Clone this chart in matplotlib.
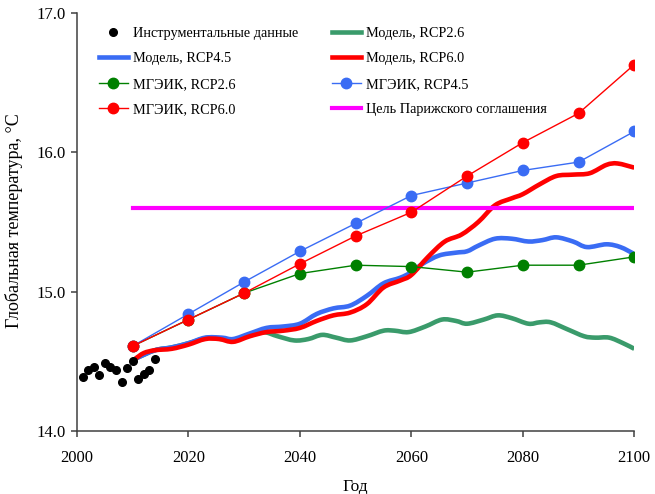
import numpy as np
import matplotlib
matplotlib.use("Agg")
import matplotlib.pyplot as plt
from matplotlib.path import Path
from matplotlib.patches import PathPatch
from matplotlib.lines import Line2D

plt.rcParams['font.family'] = ['Liberation Serif', 'DejaVu Serif']

# instrumental data
obs_years = [2001, 2002, 2003, 2004, 2005, 2006, 2007, 2008, 2009, 2010, 2011, 2012, 2013, 2014]
obs_temp = [14.39, 14.44, 14.46, 14.40, 14.49, 14.46, 14.44, 14.35, 14.45, 14.50, 14.37, 14.41, 14.44, 14.52]

# IPCC (MGEIK) scenario points
ipcc_years = [2010, 2020, 2030, 2040, 2050, 2060, 2070, 2080, 2090, 2100]
ipcc_26 = [14.61, 14.80, 14.99, 15.13, 15.19, 15.18, 15.14, 15.19, 15.19, 15.25]
ipcc_45 = [14.61, 14.84, 15.07, 15.29, 15.49, 15.69, 15.78, 15.87, 15.93, 16.15]
ipcc_60 = [14.61, 14.80, 14.99, 15.20, 15.40, 15.57, 15.83, 16.07, 16.28, 16.63]

# model curves (smoothed lines)
m26_years = [2010.5, 2014, 2017, 2020, 2023.5, 2026, 2028, 2031, 2033.5, 2036, 2039, 2041.5, 2044, 2046.5,
             2049, 2052, 2055, 2057, 2059.5, 2062.5, 2065.5, 2068, 2070, 2073, 2075.5, 2078, 2081, 2083,
             2085, 2088, 2091, 2093, 2095.5, 2098, 2100]
m26_temp = [14.52, 14.58, 14.60, 14.63, 14.67, 14.66, 14.65, 14.69, 14.71, 14.68, 14.65, 14.66, 14.69, 14.67,
            14.65, 14.68, 14.72, 14.72, 14.71, 14.75, 14.80, 14.79, 14.77, 14.80, 14.83, 14.81, 14.77, 14.78,
            14.78, 14.73, 14.68, 14.67, 14.67, 14.63, 14.59]

m45_years = [2010.5, 2014, 2017, 2020, 2023, 2026, 2028, 2031, 2034, 2037, 2040, 2043, 2046, 2049, 2052,
             2055, 2058, 2060, 2062, 2065, 2068, 2070, 2072, 2075, 2078, 2081, 2083.5, 2086, 2089, 2091.5,
             2095, 2097.5, 2100]
m45_temp = [14.52, 14.58, 14.60, 14.63, 14.67, 14.67, 14.66, 14.70, 14.74, 14.75, 14.77, 14.84, 14.88, 14.90,
            14.97, 15.06, 15.10, 15.14, 15.20, 15.26, 15.28, 15.29, 15.33, 15.38, 15.38, 15.36, 15.37, 15.39,
            15.36, 15.32, 15.34, 15.32, 15.27]

m60_years = [2010.5, 2012, 2014, 2017, 2020, 2023, 2025.5, 2028, 2031, 2034, 2037, 2040, 2043, 2046, 2049,
             2052, 2055, 2058, 2060, 2063, 2066, 2069, 2072, 2075, 2078, 2080, 2083, 2086, 2089, 2092, 2095,
             2097, 2100]
m60_temp = [14.52, 14.56, 14.58, 14.59, 14.62, 14.66, 14.66, 14.64, 14.68, 14.71, 14.72, 14.74, 14.79, 14.83,
            14.85, 14.91, 15.03, 15.08, 15.12, 15.25, 15.36, 15.41, 15.50, 15.62, 15.67, 15.70, 15.77, 15.83,
            15.84, 15.85, 15.91, 15.92, 15.89]

paris_years = [2010, 2100]
paris_temp = [15.6, 15.6]

c_green_m = '#3a9b6b'
c_blue = '#3a6cf4'
c_red = '#ff0000'
c_green = '#008000'
c_mag = '#ff00ff'


def smooth(ax, xs, ys, color, lw, z):
    # excel-like smoothed line: bezier segments through the points
    p = np.column_stack([xs, ys])
    n = len(p)
    verts = [p[0]]
    codes = [Path.MOVETO]
    for i in range(n - 1):
        a = p[i - 1] if i > 0 else p[i]
        d = p[i + 2] if i + 2 < n else p[i + 1]
        verts.append(p[i] + (p[i + 1] - a) / 6.0)
        verts.append(p[i + 1] - (d - p[i]) / 6.0)
        verts.append(p[i + 1])
        codes += [Path.CURVE4] * 3
    ax.add_patch(PathPatch(Path(verts, codes), fill=False, edgecolor=color, lw=lw,
                           capstyle='butt', joinstyle='round', zorder=z))


fig = plt.figure(figsize=(6.55, 4.94), dpi=100)
ax = fig.add_axes([0.1176, 0.1275, 0.8508, 0.8462])

smooth(ax, m26_years, m26_temp, c_green_m, 3.3, 2)
smooth(ax, m45_years, m45_temp, c_blue, 3.3, 3)
smooth(ax, m60_years, m60_temp, c_red, 3.3, 4)
ax.plot(paris_years, paris_temp, color=c_mag, lw=3.0, zorder=5)

ax.plot(ipcc_years, ipcc_26, color=c_green, lw=1.0, marker='o', ms=7.5, zorder=6)
ax.plot(ipcc_years, ipcc_45, color=c_blue, lw=1.0, marker='o', ms=7.5, zorder=7)
ax.plot(ipcc_years, ipcc_60, color=c_red, lw=1.0, marker='o', ms=7.5, zorder=8)
ax.plot(obs_years, obs_temp, 'o', color='black', ms=5.5, zorder=9)

ax.set_xlim(2000, 2100)
ax.set_ylim(14, 17)
ax.set_xticks(range(2000, 2101, 20))
ax.set_yticks([14, 15, 16, 17])
ax.set_yticklabels(['%.1f' % v for v in [14, 15, 16, 17]])
for s in ['top', 'right']:
    ax.spines[s].set_visible(False)
for s in ['left', 'bottom']:
    ax.spines[s].set_color('#404040')
    ax.spines[s].set_linewidth(1.1)
ax.tick_params(direction='out', length=4, width=1.1, color='#404040', labelsize=12, labelcolor='black')
ax.tick_params(axis='x', pad=9.5)
ax.tick_params(axis='y', pad=4)

fig.text(0.5427, 0.014, 'Год', ha='center', va='center', fontsize=12.5)
fig.text(0.022, 0.553, 'Глобальная температура, °С', rotation=90, ha='center', va='center', fontsize=13)

# legend, row-wise order like the original (matplotlib fills columns first)
h = {
    'obs': Line2D([], [], ls='none', marker='o', color='black', ms=5.5),
    'm26': Line2D([], [], color=c_green_m, lw=3.3),
    'm45': Line2D([], [], color=c_blue, lw=3.3),
    'm60': Line2D([], [], color=c_red, lw=3.3),
    'i26': Line2D([], [], color=c_green, lw=1.0, marker='o', ms=7.5),
    'i45': Line2D([], [], color=c_blue, lw=1.0, marker='o', ms=7.5),
    'i60': Line2D([], [], color=c_red, lw=1.0, marker='o', ms=7.5),
    'par': Line2D([], [], color=c_mag, lw=3.0),
}
labels = {
    'obs': 'Инструментальные данные',
    'm26': 'Модель, RCP2.6',
    'm45': 'Модель, RCP4.5',
    'm60': 'Модель, RCP6.0',
    'i26': 'МГЭИК, RCP2.6',
    'i45': 'МГЭИК, RCP4.5',
    'i60': 'МГЭИК, RCP6.0',
    'par': 'Цель Парижского соглашения',
}
order = ['obs', 'm45', 'i26', 'i60', 'm26', 'm60', 'i45', 'par']
ax.legend([h[k] for k in order], [labels[k] for k in order], ncol=2, frameon=False,
          loc='upper left', bbox_to_anchor=(0.151, 0.946), bbox_transform=fig.transFigure,
          borderpad=0, borderaxespad=0, handlelength=2.0, handletextpad=0.35,
          columnspacing=2.4, labelspacing=0.88, fontsize=10.3)

fig.savefig('out.png', dpi=100)
